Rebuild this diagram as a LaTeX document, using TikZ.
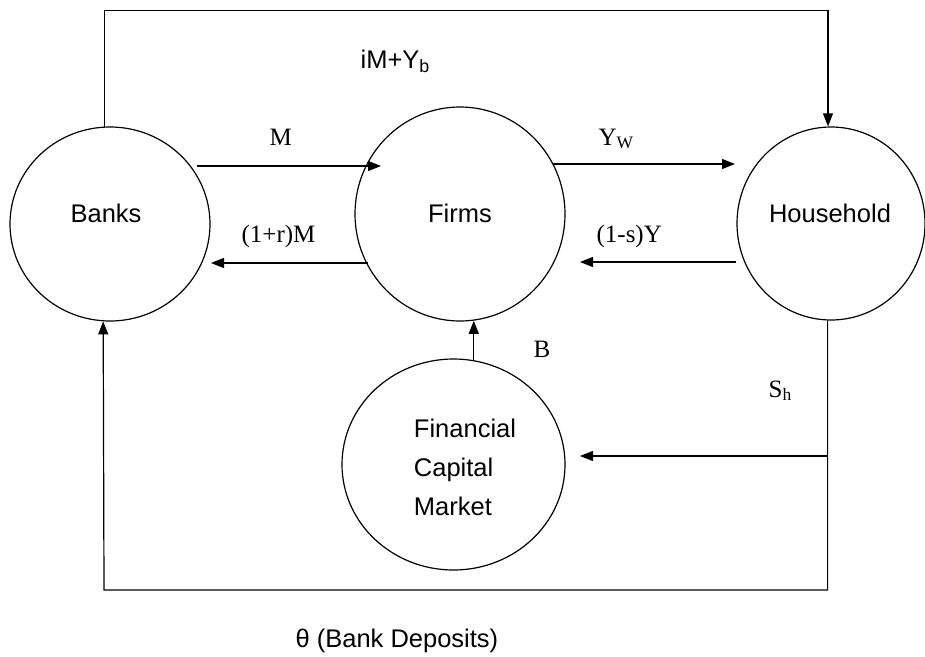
\documentclass[tikz,border=0pt]{standalone}
\usepackage{fontspec}
\setmainfont{Liberation Serif}
\setsansfont{Liberation Sans}
\usetikzlibrary{shapes.geometric,arrows.meta}
\begin{document}
\begin{tikzpicture}[x=1pt,y=-1pt,
  line width=1.2pt,
  entity/.style={ellipse,draw,inner sep=0pt,line width=1.2pt},
  ent/.style={font=\sffamily\fontsize{25.5}{39}\selectfont,inner sep=0pt},
  lab/.style={font=\fontsize{25}{30}\selectfont,inner sep=0pt,anchor=base west},
  slab/.style={font=\sffamily\fontsize{25.5}{30}\selectfont,inner sep=0pt,anchor=base west},
  arr/.style={-{Triangle[length=13pt,width=10pt]}},
]
\useasboundingbox[fill=white] (0,0) rectangle (925,656);
% entities
\node[entity,minimum width=200pt,minimum height=194pt] (banks) at (110,224) {};
\node[ent] (bankst) at (106,213) {Banks};
\node[entity,minimum width=210pt,minimum height=214pt] (firms) at (460,214) {};
\node[ent] (firmst) at (460,213) {Firms};
\node[entity,minimum width=188pt,minimum height=193pt] (house) at (831,223.5) {};
\node[ent] (houset) at (830,213) {Household};
\node[entity,minimum width=223pt,minimum height=211pt] (fcm) at (453.5,464.5) {};
\node[ent,align=left] (fcmt) at (465,467) {Financial\\Capital\\Market};
% labels
\node[slab] (limy) at (360,68) {iM+Y\textsubscript{b}};
\node[lab] (lm) at (269,145) {M};
\node[lab] (lyw) at (598,145) {Y\textsubscript{W}};
\node[lab] (lrm) at (241,242) {(1+r)M};
\node[lab] (lsy) at (596,242) {(1-s)Y};
\node[lab] (lb) at (533,357) {B};
\node[lab] (lsh) at (768,397) {S\textsubscript{h}};
\node[slab] (ltheta) at (295,647) {θ (Bank Deposits)};
% connector end points
\coordinate (tr) at (828,10.5);
\coordinate (bl) at (104,590);
\coordinate (m1) at (197,166);
\coordinate (m2) at (381,166);
\coordinate (yw1) at (553,164);
\coordinate (yw2) at (735,164);
\coordinate (r1) at (368,263);
\coordinate (r2) at (211,263);
\coordinate (s1) at (736,262);
\coordinate (s2) at (580,262);
\coordinate (sh1) at (828,456);
\coordinate (sh2) at (580,456);
% connectors
\draw[arr] (banks.93.5) |- (tr) -- (tr |- house.north);
\draw[arr] (m1) -- (m2);
\draw[arr] (yw1) -- (yw2);
\draw[arr] (r1) -- (r2);
\draw[arr] (s1) -- (s2);
\draw[arr] (fcm.79.4) -- (fcm.79.4 |- firms.277);
\draw[arr] (house.268.2) |- (bl) -- (banks.266.5);
\draw[arr] (sh1) -- (sh2);
\end{tikzpicture}
\end{document}
